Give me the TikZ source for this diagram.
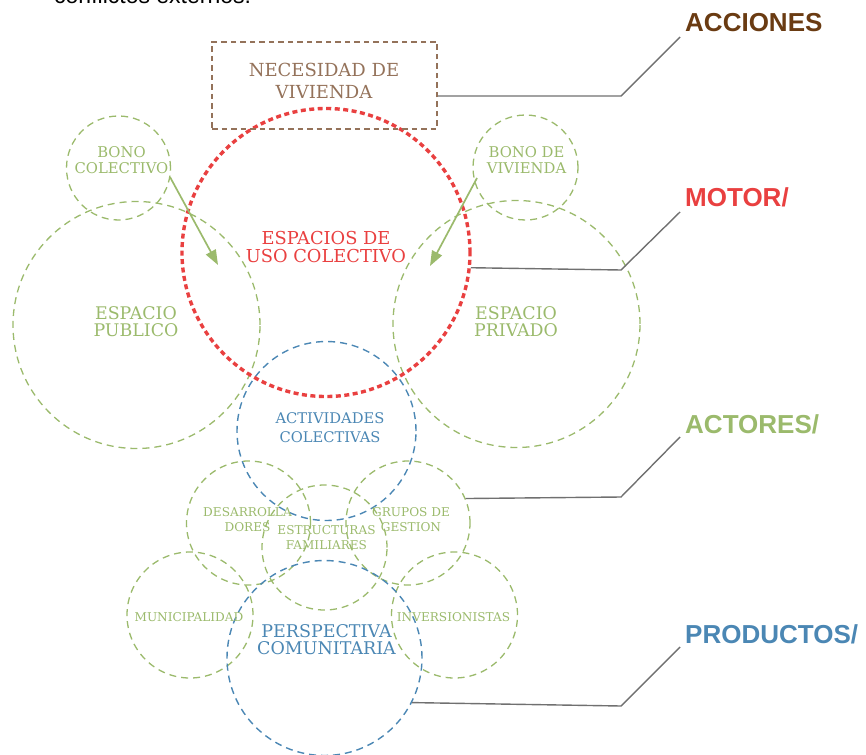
\documentclass[tikz,border=0pt]{standalone}
\usepackage{fontspec}
\setmainfont{DejaVu Serif}
\newfontfamily\headfont{Liberation Sans}
\usetikzlibrary{arrows.meta}
\definecolor{cgreen}{HTML}{9BBA6C}
\definecolor{cred}{HTML}{E94040}
\definecolor{cblue}{HTML}{4B87B4}
\definecolor{cbox}{HTML}{94725A}
\definecolor{cacc}{HTML}{6A3B12}
\definecolor{cline}{HTML}{707070}
\tikzset{
  gcirc/.style={circle, draw=cgreen, line width=1.3pt, dash pattern=on 7pt off 5pt, inner sep=0pt, minimum size=#1},
  bcirc/.style={circle, draw=cblue, line width=1.4pt, dash pattern=on 7pt off 5pt, inner sep=0pt, minimum size=#1},
  rcirc/.style={circle, draw=cred, line width=3.4pt, dash pattern=on 5pt off 3.5pt, inner sep=0pt, minimum size=#1},
  lbl/.style 2 args={align=center, inner sep=0pt, font=\fontsize{#1}{#2}\selectfont},
  leader/.style={draw=cline, line width=1.4pt},
  head/.style={anchor=base west, inner sep=0pt, font=\headfont\bfseries\fontsize{26}{26}\selectfont},
  garrow/.style={draw=cgreen, line width=1.7pt, -{Triangle[length=15pt,width=11pt]}}
}
\begin{document}
\begin{tikzpicture}[x=1pt,y=-1pt]
\useasboundingbox (0,0) rectangle (866,754);
% top clipped text
\node[anchor=base west, inner sep=0pt, font=\headfont\fontsize{23}{23}\selectfont] (topt) at (54,4) {conflictos externos.};
% circles
\node[gcirc=247pt] (pub) at (136.5,325) {};
\node[gcirc=247pt] (priv) at (516.5,324) {};
\node[gcirc=104pt] (bcol) at (118.5,168) {};
\node[gcirc=105pt] (bviv) at (525.5,167.5) {};
\node[bcirc=179pt] (act) at (326.5,431) {};
\node[gcirc=124pt] (des) at (248.5,523) {};
\node[gcirc=124pt] (gru) at (408,523) {};
\node[gcirc=125pt] (est) at (324.5,547.5) {};
\node[gcirc=126pt] (mun) at (190,615) {};
\node[gcirc=126pt] (inv) at (454.5,615) {};
\node[bcirc=195pt] (per) at (324.5,658) {};
\node[rcirc=288pt] (red) at (326,252.5) {};
% box
\node[draw=cbox, line width=1.5pt, dash pattern=on 5.5pt off 4pt, minimum width=225pt, minimum height=87pt, inner sep=0pt] (nec) at (324.5,85.5) {};
% labels
\node[lbl={18}{22}, text=cbox] (necl) at (324,80.5) {NECESIDAD DE\\VIVIENDA};
\node[lbl={17.8}{18}, text=cred] (redl) at (326,247.5) {ESPACIOS DE\\USO COLECTIVO};
\node[lbl={17.4}{17}, text=cgreen] (publ) at (136,322) {ESPACIO\\PUBLICO};
\node[lbl={17.4}{17}, text=cgreen] (privl) at (516,322) {ESPACIO\\PRIVADO};
\node[lbl={14.7}{19}, text=cblue] (actl) at (330,427.5) {ACTIVIDADES\\COLECTIVAS};
\node[lbl={14.8}{16}, text=cgreen] (bcoll) at (121.5,160) {BONO\\COLECTIVO};
\node[lbl={14.8}{16}, text=cgreen] (bvivl) at (526.5,160) {BONO DE\\VIVIENDA};
\node[lbl={12.1}{15}, text=cgreen] (desl) at (247.5,519.5) {DESARROLLA\\DORES};
\node[lbl={12.1}{15}, text=cgreen] (estl) at (326.5,537.5) {ESTRUCTURAS\\FAMILIARES};
\node[lbl={12.1}{15}, text=cgreen] (grul) at (411,519.5) {GRUPOS DE\\GESTION};
\node[lbl={12.1}{15}, text=cgreen] (munl) at (189,617) {MUNICIPALIDAD};
\node[lbl={12.1}{15}, text=cgreen] (invl) at (453.5,617) {INVERSIONISTAS};
\node[lbl={17.5}{17}, text=cblue] (perl) at (326.5,640) {PERSPECTIVA\\COMUNITARIA};
% arrows
\coordinate (a1s) at (170,177);
\coordinate (a1e) at (218,265);
\coordinate (a2s) at (477,178);
\coordinate (a2e) at (430,266);
\draw[garrow] (a1s) -- (a1e);
\draw[garrow] (a2s) -- (a2e);
% headings
\node[head, text=cacc] (hacc) at (685,32) {ACCIONES};
\node[head, text=cred] (hmot) at (685,206) {MOTOR/};
\node[head, text=cgreen] (hact) at (685,433) {ACTORES/};
\node[head, text=cblue] (hpro) at (685,643) {PRODUCTOS/};
% leaders
\coordinate (k1) at (621,96);
\coordinate (e1) at (680,37);
\coordinate (k2) at (621,270);
\coordinate (e2) at (680,212);
\coordinate (k3) at (621,497);
\coordinate (e3) at (680,437);
\coordinate (k4) at (621,706);
\coordinate (e4) at (680,647);
\draw[leader] (nec.east |- k1) -- (k1) -- (e1);
\draw[leader] (red.-6.8) -- (k2) -- (e2);
\draw[leader] (gru.23.8) -- (k3) -- (e3);
\draw[leader] (per.-27.5) -- (k4) -- (e4);
\end{tikzpicture}
\end{document}
